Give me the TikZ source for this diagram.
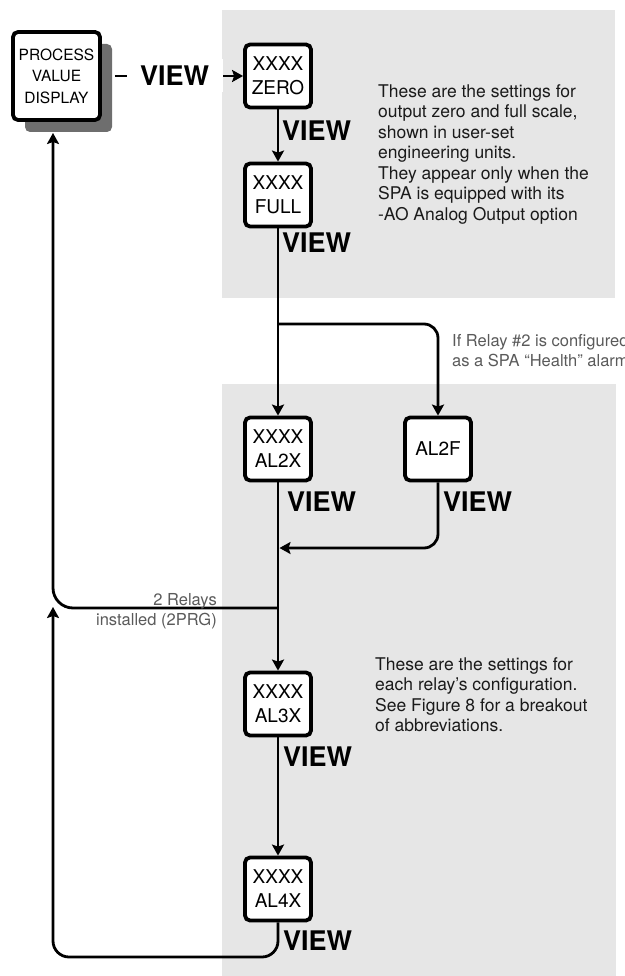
\documentclass[tikz,border=0pt]{standalone}
\usepackage{fontspec}
\setmainfont{TeX Gyre Heros}
\usetikzlibrary{arrows.meta,shadows}
\definecolor{panel}{HTML}{E6E6E6}
\definecolor{shadowc}{HTML}{6E6E6E}
\definecolor{graytext}{HTML}{5A5A5A}
\definecolor{desctext}{HTML}{1A1A1A}
\begin{document}
\begin{tikzpicture}[x=1pt,y=-1pt,
  box/.style={draw, line width=3.8pt, rounded corners=5pt, fill=white,
    minimum width=66pt, minimum height=63pt, inner sep=0pt, align=center,
    font=\fontsize{19}{24}\selectfont},
  conn/.style={line width=2.8pt, -{Stealth[length=11pt,width=12pt,inset=2pt]}},
  viewfont/.style={font=\fontsize{27}{27}\selectfont\bfseries},
  viewlbl/.style={viewfont, inner sep=0pt, anchor=west},
  desc/.style={align=left, anchor=north west, inner sep=0pt, text=desctext,
    font=\fontsize{17.5}{20.5}\selectfont},
  note/.style={inner sep=0pt, text=graytext, font=\fontsize{16.5}{20}\selectfont}]
\useasboundingbox (0,0) rectangle (624,976);
\clip (0,0) rectangle (624,976);
% panels
\fill[panel] (222,10) rectangle (615,298);
\fill[panel] (222,384) rectangle (616,976);

% nodes
\node[box, minimum width=87pt, minimum height=88pt,
  font=\fontsize{15.5}{21.5}\selectfont,
  drop shadow={shadow xshift=12pt, shadow yshift=-12pt, fill=shadowc, opacity=1}]
  (pvd) at (56.5,76) {PROCESS\\VALUE\\DISPLAY};
\node[box] (zero) at (278,76) {XXXX\\ZERO};
\node[box] (full) at (278,195) {XXXX\\FULL};
\node[box] (al2x) at (278,449) {XXXX\\AL2X};
\node[box] (al2f) at (438,449) {AL2F};
\node[box] (al3x) at (278,704) {XXXX\\AL3X};
\node[box] (al4x) at (278,889) {XXXX\\AL4X};

% junction coordinates
\coordinate (br) at (278,324);
\coordinate (m1) at (279.5,548);
\coordinate (j2) at (278,608);
\coordinate (pvdin) at (53,133);
\coordinate (lp) at (53,957);
\coordinate (ret) at (53,607);

% connectors
\draw[conn] ([xshift=13pt]pvd.east) -- node[pos=0.465, fill=white, viewfont,
  minimum width=96pt, minimum height=33pt, inner sep=0pt] (v1) {VIEW} (zero.west);
\draw[conn] (zero.south) -- (full.north);
\draw[conn] (full.south) -- (al2x.north);
\draw[conn, rounded corners=14pt] (br) -| (al2f.north);
\draw[conn] (al2x.south) -- (al3x.north);
\draw[conn, rounded corners=14pt] (al2f.south) |- (m1);
\draw[conn, rounded corners=20pt] (j2) -| (pvdin);
\draw[conn] (al3x.south) -- (al4x.north);
\draw[conn, rounded corners=16pt] (al4x.south) |- (lp) -- (ret);

% VIEW labels
\node[viewlbl] (v2) at (282,131) {VIEW};
\node[viewlbl] (v3) at (282,243) {VIEW};
\node[viewlbl] (v4) at (287,502) {VIEW};
\node[viewlbl] (v5) at (443,502) {VIEW};
\node[viewlbl] (v6) at (283,757) {VIEW};
\node[viewlbl] (v7) at (283,941) {VIEW};

% notes
\node[desc] (d1) at (378,84) {These are the settings for\\output zero and full scale,\\shown in user-set\\engineering units.\\They appear only when the\\SPA is equipped with its\\-AO Analog Output option};
\node[desc] (d2) at (375,657) {These are the settings for\\each relay's configuration.\\See Figure 8 for a breakout\\of abbreviations.};
\node[note, align=left, anchor=north west] (n1) at (452,334) {If Relay \#2 is configured\\as a SPA “Health” alarm};
\node[note, align=right, anchor=north east] (n2) at (217,593) {2 Relays\\installed (2PRG)};
\end{tikzpicture}
\end{document}
